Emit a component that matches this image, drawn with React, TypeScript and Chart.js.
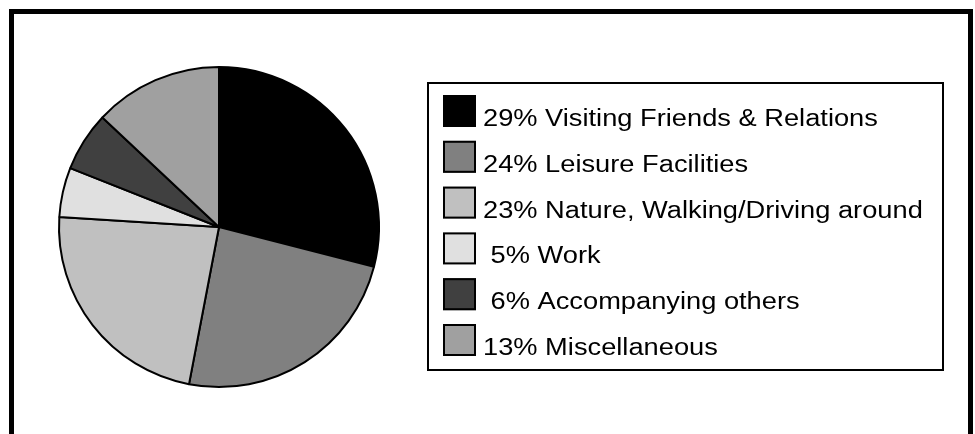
import React, { useEffect, useRef } from "react";
import { Chart, registerables } from "chart.js";

Chart.register(...registerables);

const categories = [
  "Visiting Friends & Relations",
  "Leisure Facilities",
  "Nature, Walking/Driving around",
  "Work",
  "Accompanying others",
  "Miscellaneous",
];
const percentages = [29, 24, 23, 5, 6, 13];
const sliceColors = ["#000000", "#808080", "#c0c0c0", "#e0e0e0", "#404040", "#a0a0a0"];

const legendLabels = categories.map((c, i) =>
  `${percentages[i] < 10 ? " " : ""}${percentages[i]}% ${c}`
);

const framePlugin = {
  id: "frame",
  beforeDraw(chart: any) {
    const ctx = chart.ctx;
    ctx.save();
    ctx.fillStyle = "#ffffff";
    ctx.fillRect(0, 0, chart.width, chart.height);
    ctx.strokeStyle = "#000000";
    ctx.lineWidth = 5;
    ctx.strokeRect(11.5, 11.5, 959, 700);
    ctx.restore();
  },
};

const legendPlugin = {
  id: "boxLegend",
  afterDraw(chart: any) {
    const ctx = chart.ctx;
    const labels: string[] = chart.data.labels;
    const colors: string[] = chart.data.datasets[0].backgroundColor;
    ctx.save();
    ctx.strokeStyle = "#000000";
    ctx.lineWidth = 2;
    ctx.strokeRect(428, 83, 515, 287);
    const rowStep = 45.8;
    labels.forEach((label, i) => {
      const base = 126 + rowStep * i;
      const top = base - 31;
      ctx.fillStyle = colors[i];
      ctx.fillRect(443, top, 33, 32);
      ctx.strokeStyle = "#000000";
      ctx.lineWidth = 2;
      ctx.strokeRect(444, top + 1, 31, 30);
      ctx.save();
      ctx.translate(483, base);
      ctx.scale(1.185, 1);
      ctx.fillStyle = "#000000";
      ctx.font = '23px "Liberation Sans", Arial, sans-serif';
      ctx.textBaseline = "alphabetic";
      ctx.textAlign = "left";
      ctx.fillText(label, 0, 0);
      ctx.restore();
    });
    ctx.restore();
  },
};

export default function App() {
  const ref = useRef<HTMLCanvasElement | null>(null);
  useEffect(() => {
    if (!ref.current) return;
    const chart = new Chart(ref.current, {
      type: "pie",
      data: {
        labels: legendLabels,
        datasets: [
          {
            data: percentages,
            backgroundColor: sliceColors,
            borderColor: "#000000",
            borderWidth: 2,
          },
        ],
      },
      options: {
        animation: false,
        responsive: false,
        devicePixelRatio: 1,
        layout: { padding: { left: 58, top: 66, right: 595, bottom: 46 } },
        plugins: {
          legend: { display: false },
          tooltip: { enabled: false },
        },
      },
      plugins: [framePlugin, legendPlugin],
    });
    return () => chart.destroy();
  }, []);
  return (
    <div style={{ position: "absolute", left: 0, top: 0, width: 975, height: 434, background: "#fff" }}>
      <canvas ref={ref} width={975} height={434} style={{ width: 975, height: 434, display: "block" }} />
    </div>
  );
}
